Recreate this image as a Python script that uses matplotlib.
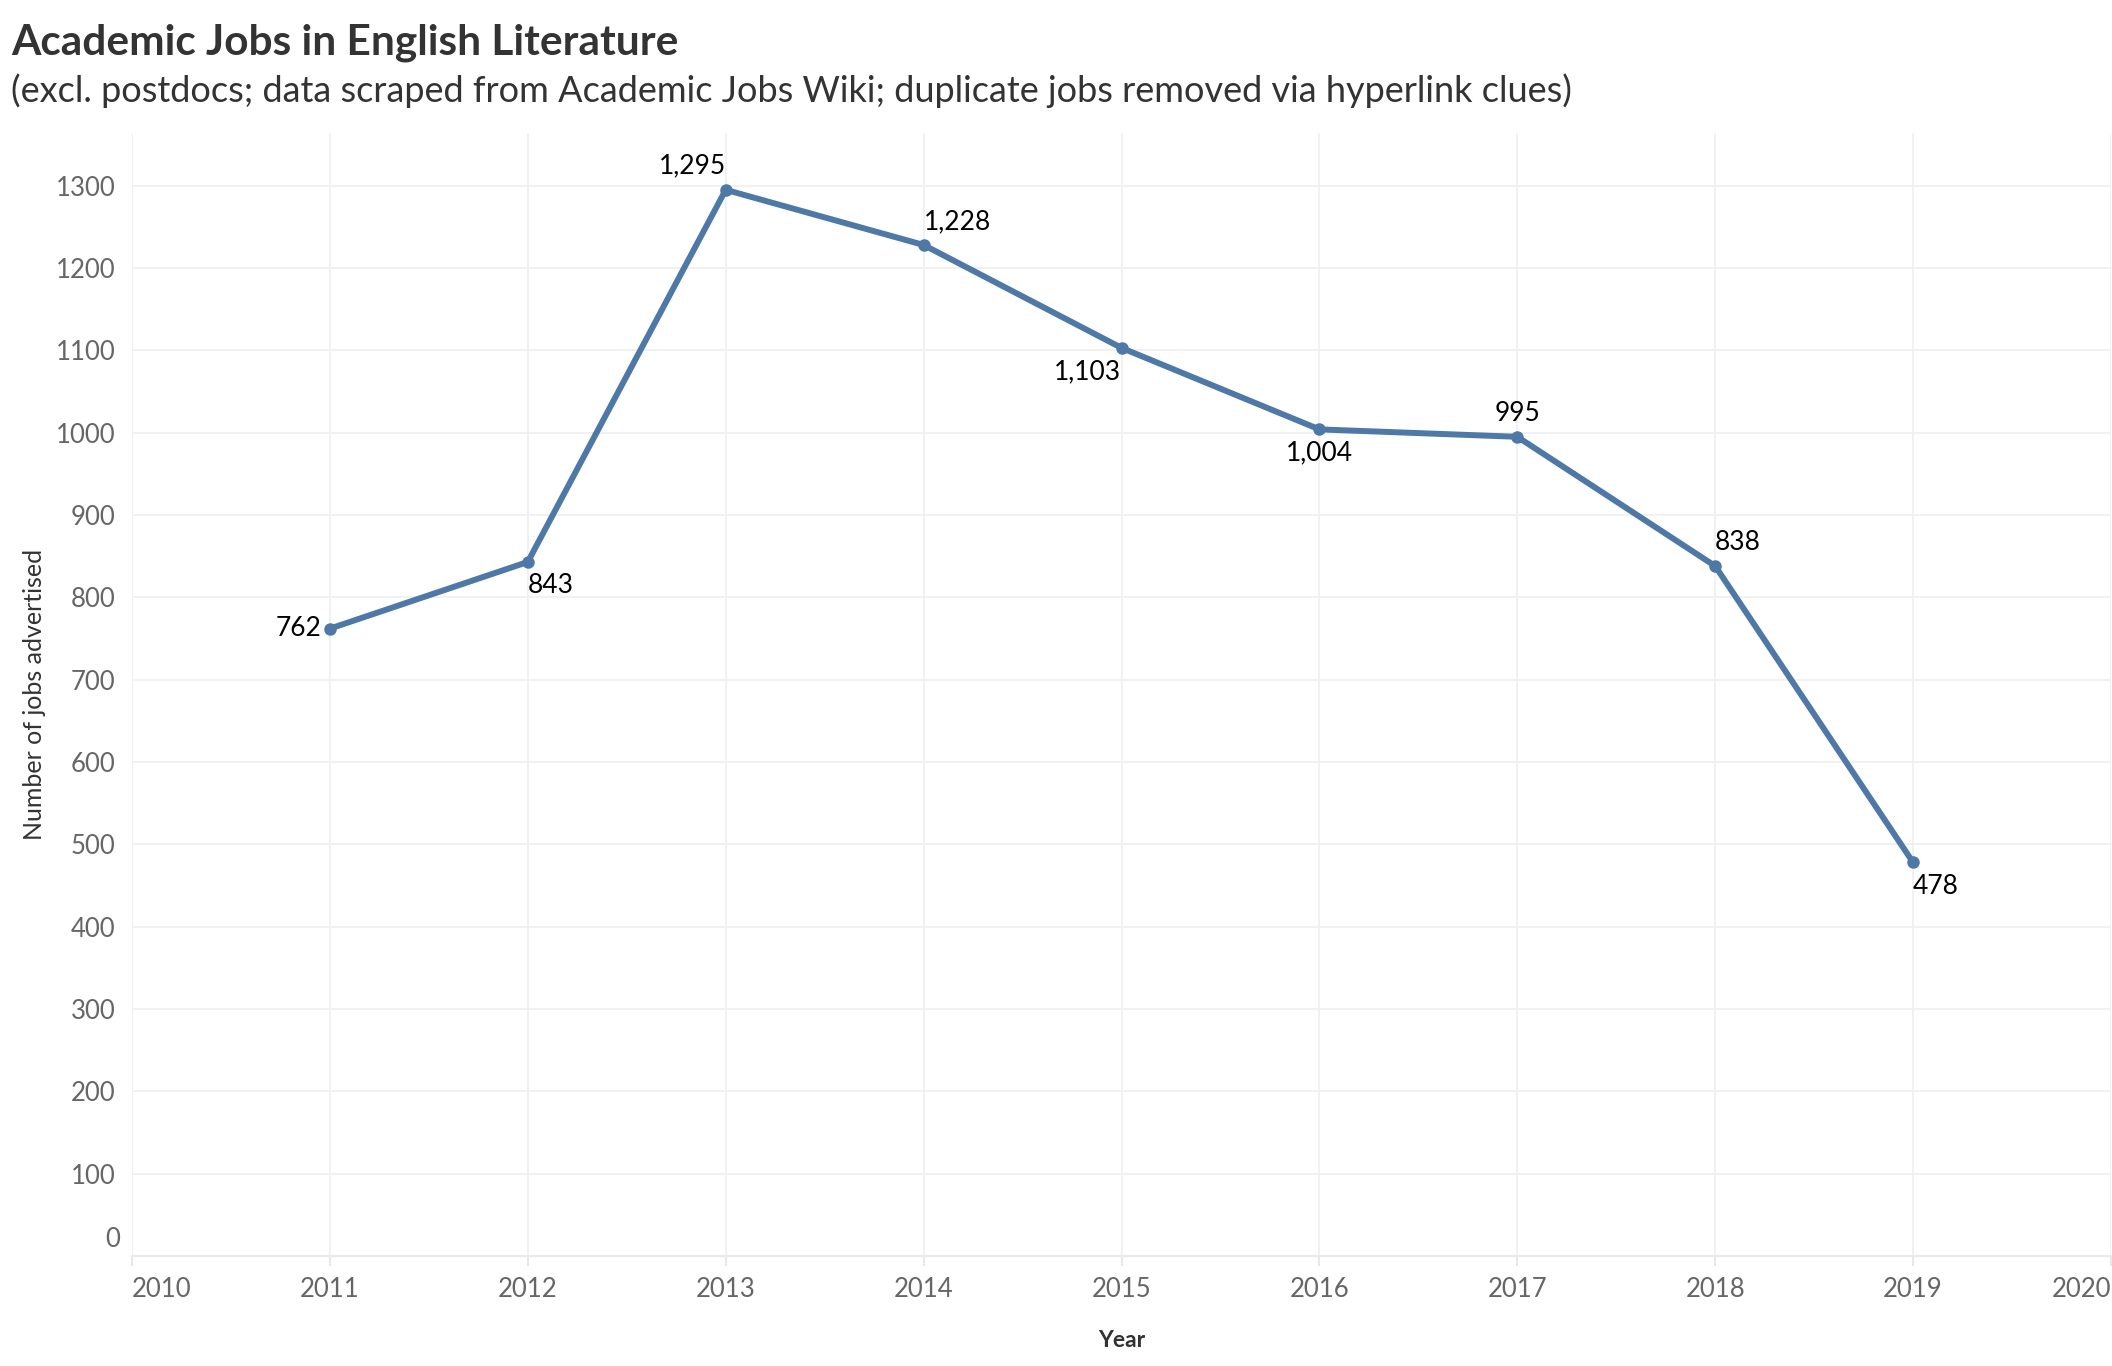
import matplotlib
matplotlib.use("Agg")
import matplotlib.pyplot as plt
from matplotlib.ticker import FixedLocator

plt.rcParams["font.family"] = ["Lato", "DejaVu Sans"]

years = [2011, 2012, 2013, 2014, 2015, 2016, 2017, 2018, 2019]
jobs = [762, 843, 1295, 1228, 1103, 1004, 995, 838, 478]
# where each value label sits relative to its point: (dx, dy, ha)
label_pos = [
    (-6, 0, "right"),
    (0, -17, "left"),
    (0, 17, "right"),
    (0, 17, "left"),
    (0, -17, "right"),
    (0, -17, "center"),
    (0, 17, "center"),
    (0, 17, "left"),
    (0, -17, "left"),
]
x_ticks = list(range(2010, 2021))
y_ticks = list(range(0, 1301, 100))

LINE = "#4e79a7"
GRID = "#f0f0f0"
TXT = "#333333"
TICK = "#666666"

fig = plt.figure(figsize=(21.12, 13.66), dpi=100)
ax = fig.add_axes([132 / 2112, 1 - 1256 / 1366, (2111 - 132) / 2112, (1256 - 133) / 1366])

ax.plot(years, jobs, color=LINE, lw=4.3, marker="o", ms=8, zorder=3)
for x, y, (dx, dy, ha) in zip(years, jobs, label_pos):
    ax.annotate(f"{y:,}", (x, y), xytext=(dx, dy), textcoords="offset points",
                ha=ha, va="center", fontsize=19, color="black", zorder=4)

ax.set_xlim(2010, 2020)
ax.set_ylim(0, 1364)
ax.xaxis.set_major_locator(FixedLocator(x_ticks))
ax.yaxis.set_major_locator(FixedLocator(y_ticks))
ax.set_xticklabels([str(t) for t in x_ticks])
# the zero label sits a little above the axis line, as in Tableau
ax.set_yticklabels([""] + [str(t) for t in y_ticks[1:]])
ax.annotate("0", xy=(0, 0), xycoords=("axes fraction", "data"), xytext=(-8.6, 12),
            textcoords="offset points", ha="right", va="center", fontsize=18.5,
            color=TICK, annotation_clip=False)

ax.grid(True, color=GRID, lw=1.3)
ax.set_axisbelow(True)
for s in ["top", "right", "left"]:
    ax.spines[s].set_visible(False)
ax.spines["bottom"].set_color("#eaeaea")
ax.spines["bottom"].set_linewidth(1.5)

ax.tick_params(axis="x", length=7, width=1.3, color="#e6e6e6", labelsize=18.5,
               labelcolor=TICK, pad=8)
ax.tick_params(axis="y", length=0, labelsize=18.5, labelcolor=TICK, pad=12)
labels = ax.get_xticklabels()
labels[0].set_ha("left")
labels[-1].set_ha("right")

ax.set_xlabel("Year", fontsize=16.5, fontweight="bold", color=TXT, labelpad=20)
ax.set_ylabel("Number of jobs advertised", fontsize=18, color=TXT, labelpad=7)

fig.text(11 / 2112, 1 - 55 / 1366, "Academic Jobs in English Literature",
         fontsize=30.5, fontweight="bold", color=TXT, va="baseline")
fig.text(11 / 2112, 1 - 102 / 1366,
         "(excl. postdocs; data scraped from Academic Jobs Wiki; duplicate jobs removed via hyperlink clues)",
         fontsize=26, color=TXT, va="baseline")

fig.savefig("out.png", dpi=100)
